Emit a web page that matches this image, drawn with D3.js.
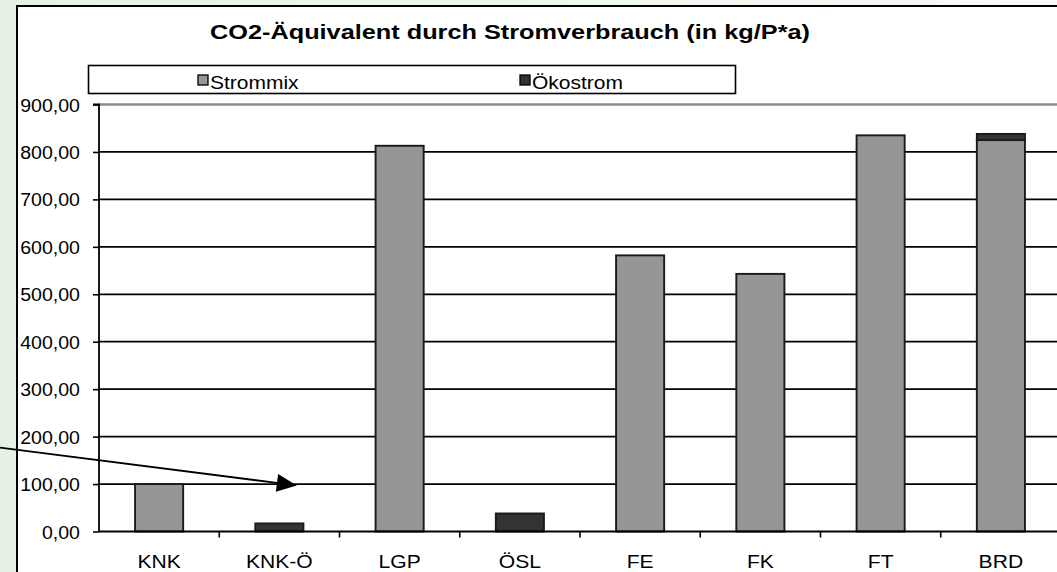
<!DOCTYPE html>
<html>
<head>
<meta charset="utf-8">
<script src="https://cdn.jsdelivr.net/npm/d3@7"></script>
<style>
  html, body { margin: 0; padding: 0; width: 1057px; height: 572px; overflow: hidden; }
  body { background: linear-gradient(90deg, #e6f1e4 0%, #eef6ec 40%, #f6faf5 100%); }
  svg { display: block; }
  text { font-family: Arial, "Liberation Sans", sans-serif; fill: #000; }
</style>
</head>
<body>
<svg id="chart" width="1057" height="572"></svg>
<script>
const categories = ["KNK", "KNK-Ö", "LGP", "ÖSL", "FE", "FK", "FT", "BRD"];
const strommix   = [100, 0, 813, 0, 582, 543, 835, 825];
const oekostrom  = [0, 17, 0, 38, 0, 0, 0, 13];
const seriesNames = ["Strommix", "Ökostrom"];
const seriesColors = ["#969696", "#333333"];
const yTicks = [0, 100, 200, 300, 400, 500, 600, 700, 800, 900];
const title = "CO2-Äquivalent durch Stromverbrauch (in kg/P*a)";

const svg = d3.select("#chart");
const W = 1057, H = 572;

// outer chart frame
svg.append("rect").attr("x", 17).attr("y", 6).attr("width", W + 20).attr("height", H + 20)
  .attr("fill", "#fff").attr("stroke", "#000").attr("stroke-width", 2);

const plot = { left: 99, right: 1061, top: 104.5, bottom: 531.5 };

const y = d3.scaleLinear().domain([0, 900]).range([plot.bottom, plot.top]);
const slot = d3.scaleBand().domain(categories).range([plot.left, plot.right]).padding(0);
const x = d3.scaleBand().domain(categories).range([plot.left, plot.right])
  .paddingInner(0.6).paddingOuter(0.3);

const fmt = v => d3.format(".2f")(v).replace(".", ",");

// gridlines
svg.append("g").selectAll("line").data(yTicks.filter(t => t > 0 && t < 900)).join("line")
  .attr("x1", plot.left).attr("x2", W).attr("y1", d => y(d)).attr("y2", d => y(d))
  .attr("stroke", "#000").attr("stroke-width", 1.7);
// top border of plot area (gray)
svg.append("line").attr("x1", plot.left).attr("x2", W).attr("y1", y(900)).attr("y2", y(900))
  .attr("stroke", "#8c8c8c").attr("stroke-width", 2.4);

// stacked bars
const rows = categories.map((c, i) => ({ cat: c, Strommix: strommix[i], "Ökostrom": oekostrom[i] }));
const stack = d3.stack().keys(seriesNames)(rows);
svg.append("g").selectAll("g").data(stack).join("g")
  .attr("fill", (d, i) => seriesColors[i])
  .selectAll("rect").data(d => d.filter(p => p[1] - p[0] > 0)).join("rect")
  .attr("x", d => x(d.data.cat))
  .attr("width", x.bandwidth())
  .attr("y", d => y(d[1]))
  .attr("height", d => y(d[0]) - y(d[1]))
  .attr("stroke", "#1a1a1a").attr("stroke-width", 1.9);

// y axis
const yAxis = d3.axisLeft(y).tickValues(yTicks).tickSize(6).tickFormat(fmt);
const gy = svg.append("g").attr("transform", `translate(${plot.left},0)`).call(yAxis);
gy.select(".domain").attr("stroke", "#000").attr("stroke-width", 1.8).attr("d", `M-6,${plot.top}H0V${plot.bottom}`);
gy.selectAll(".tick line").attr("stroke", "#000").attr("stroke-width", 1.6);
gy.selectAll(".tick text").attr("x", null).attr("dy", null)
  .attr("transform", "translate(-19,6.5) scale(1.03,1)")
  .attr("font-size", 19).attr("font-family", "Arial, 'Liberation Sans', sans-serif");

// x axis line + boundary ticks
svg.append("line").attr("x1", plot.left).attr("x2", W).attr("y1", y(0)).attr("y2", y(0))
  .attr("stroke", "#000").attr("stroke-width", 1.8);
svg.append("g").selectAll("line").data(categories.slice(1)).join("line")
  .attr("x1", d => slot(d)).attr("x2", d => slot(d))
  .attr("y1", y(0)).attr("y2", y(0) + 6).attr("stroke", "#000").attr("stroke-width", 1.6);
svg.append("g").selectAll("text").data(categories).join("text")
  .attr("transform", d => `translate(${slot(d) + slot.bandwidth() / 2},568) scale(1.14,1)`)
  .attr("text-anchor", "middle").attr("font-size", 18.5).text(d => d);

// title
svg.append("text").attr("x", 510).attr("y", 38.5).attr("text-anchor", "middle")
  .attr("font-size", 21).attr("font-weight", "bold")
  .attr("textLength", 600).attr("lengthAdjust", "spacingAndGlyphs").text(title);

// legend
const lg = svg.append("g");
lg.append("rect").attr("x", 88.5).attr("y", 65.5).attr("width", 647).attr("height", 28)
  .attr("fill", "#fff").attr("stroke", "#000").attr("stroke-width", 1.6);
const legendX = [198, 520];
seriesNames.forEach((s, i) => {
  lg.append("rect").attr("x", legendX[i]).attr("y", 75).attr("width", 10).attr("height", 10)
    .attr("fill", seriesColors[i]).attr("stroke", "#000").attr("stroke-width", 1.3);
  lg.append("text").attr("transform", `translate(${legendX[i] + 12},88.5) scale(1.2,1)`)
    .attr("font-size", 17.5).text(s);
});

// annotation arrow (pointing at KNK-Ö)
const tipX = slot("KNK-Ö") + slot.bandwidth() * 0.645, tipY = y(97);
const startX = 0, startY = y(177);
const ang = Math.atan2(tipY - startY, tipX - startX);
const hl = 20, hw = 9;
const bx = tipX - hl * Math.cos(ang), by = tipY - hl * Math.sin(ang);
svg.append("line").attr("x1", startX).attr("y1", startY).attr("x2", bx).attr("y2", by)
  .attr("stroke", "#000").attr("stroke-width", 1.8);
svg.append("path")
  .attr("d", `M${tipX},${tipY}L${bx + hw * Math.sin(ang)},${by - hw * Math.cos(ang)}L${bx - hw * Math.sin(ang)},${by + hw * Math.cos(ang)}Z`)
  .attr("fill", "#000");
</script>
</body>
</html>
